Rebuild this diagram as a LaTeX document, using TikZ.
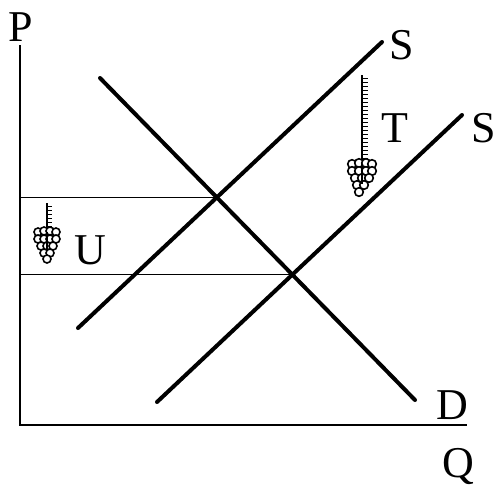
\documentclass[tikz,border=0pt]{standalone}
\usepackage{fontspec}
\setmainfont{Liberation Serif}
\usetikzlibrary{intersections,calc}
\begin{document}
\begin{tikzpicture}[x=0.5pt,y=-0.5pt,
  curve/.style={line width=2pt,line cap=round},
  axis/.style={line width=1pt},
  guide/.style={line width=0.6pt},
  lbl/.style={font=\fontsize{22}{26}\selectfont,inner sep=0pt},
  grape/.style={draw,fill=white,line width=0.8pt}]
\useasboundingbox (0,0) rectangle (498,489);
% axes
\coordinate (O) at (20,425);
\coordinate (Ptop) at (20,45);
\coordinate (Qend) at (467,425);
\draw[axis] (Ptop) -- (O) -- (Qend);
\node[lbl] (P) at (21,27) {P};
\node[lbl] (Q) at (458,466) {Q};
% curves
\coordinate (D1) at (100,78);
\coordinate (D2) at (415,400);
\coordinate (Sa1) at (78,328);
\coordinate (Sa2) at (382,42);
\coordinate (Sb1) at (157,402);
\coordinate (Sb2) at (462,115);
\draw[curve,name path=D] (D1) -- (D2);
\draw[curve,name path=SA] (Sa1) -- (Sa2);
\draw[curve,name path=SB] (Sb1) -- (Sb2);
\node[lbl] (Dl) at (452,405) {D};
\node[lbl] (Sal) at (402,45) {S};
\node[lbl] (Sbl) at (484,128) {S};
\node[lbl] (Tl) at (395,128) {T};
\node[lbl] (Ul) at (90,250) {U};
% intersections and guides
\path[name intersections={of=D and SA,by=E1}];
\path[name intersections={of=D and SB,by=E2}];
\coordinate (G1) at (O |- E1);
\coordinate (G2) at (O |- E2);
\draw[guide] (G1) -- (E1);
\draw[guide] (G2) -- (E2);
% T arrow
\coordinate (Ttop) at (362,75);
\coordinate (Thead) at (362,164);
\draw[line width=1pt] (Ttop) -- (Thead);
\foreach \y in {78,82,...,158} \draw[line width=0.5pt] (362,\y) -- (368,\y);
\foreach \dx/\dy in {-10/0,-3/-1,4/-1,10/0,-10/7,-3/7,4/7,10/7,-7/14,0/14,7/14,-5/21,2/21,-3/28}
  \draw[grape] ($(Thead)+(\dx,\dy)$) circle[radius=4.3];
\draw[line width=1pt] (Thead) -- ++(0,20);
% U arrow
\coordinate (Utop) at (47,203);
\coordinate (Uhead) at (47,232);
\draw[line width=1pt] (Utop) -- (Uhead);
\foreach \y in {206,210,...,226} \draw[line width=0.5pt] (47,\y) -- (52,\y);
\foreach \dx/\dy in {-9/0,-3/-1,3/-1,9/0,-9/7,-3/7,3/7,9/7,-6/14,0/14,6/14,-3/21,3/21,0/27}
  \draw[grape] ($(Uhead)+(\dx,\dy)$) circle[radius=4];
\draw[line width=1pt] (Uhead) -- ++(0,18);
\end{tikzpicture}
\end{document}
